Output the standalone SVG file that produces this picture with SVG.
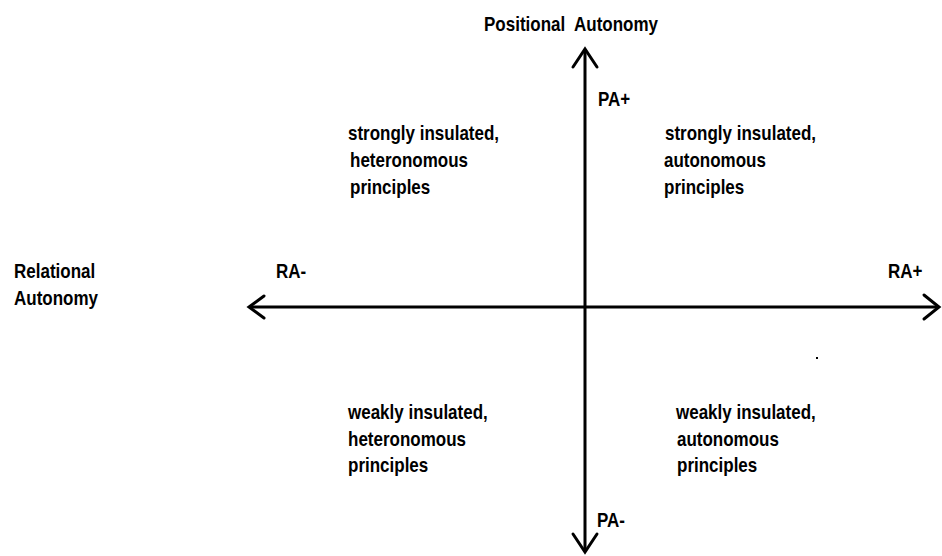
<svg xmlns="http://www.w3.org/2000/svg" width="942" height="556" viewBox="0 0 942 556">
  <style>
    .lbl { font-family: "Liberation Sans", Arial, sans-serif; font-weight: bold; font-size: 17px; fill: #000; }
    .axis { stroke: #000; stroke-width: 3; fill: none; }
    .head { stroke: #000; stroke-width: 3; fill: none; stroke-linecap: round; stroke-linejoin: miter; }
  </style>
  <rect width="942" height="556" fill="#fff"/>

  <g id="connectors">
    <!-- vertical axis: positional autonomy -->
    <line class="axis" x1="585" y1="49" x2="585" y2="552"/>
    <polyline class="head" points="573,67 585,49 597,67"/>
    <polyline class="head" points="573,534 585,552 597,534"/>
    <!-- horizontal axis: relational autonomy -->
    <line class="axis" x1="249" y1="307" x2="938" y2="307"/>
    <polyline class="head" points="264,296 249,307 264,318"/>
    <polyline class="head" points="924,295 939,307 924,319"/>
  </g>

  <!-- labels use a slightly tall face: scale(1 1.2) about each baseline -->
  <g id="axis-title-pa">
    <text class="lbl" transform="translate(484 31) scale(1 1.2)" xml:space="preserve">Positional  Autonomy</text>
  </g>
  <g id="axis-title-ra">
    <text class="lbl" transform="translate(14 278) scale(1 1.2)">Relational</text>
    <text class="lbl" transform="translate(14 305) scale(1 1.2)">Autonomy</text>
  </g>

  <g id="pa-plus"><text class="lbl" transform="translate(598 106) scale(1 1.2)">PA+</text></g>
  <g id="pa-minus"><text class="lbl" transform="translate(597 527) scale(1 1.2)">PA-</text></g>
  <g id="ra-minus"><text class="lbl" transform="translate(276 278) scale(1 1.2)">RA-</text></g>
  <g id="ra-plus"><text class="lbl" transform="translate(888 278) scale(1 1.2)">RA+</text></g>

  <g id="q-top-left">
    <text class="lbl" transform="translate(348 140) scale(1 1.2)">strongly insulated,</text>
    <text class="lbl" transform="translate(350 167) scale(1 1.2)">heteronomous</text>
    <text class="lbl" transform="translate(350 194) scale(1 1.2)">principles</text>
  </g>
  <g id="q-top-right">
    <text class="lbl" transform="translate(665 140) scale(1 1.2)">strongly insulated,</text>
    <text class="lbl" transform="translate(664 167) scale(1 1.2)">autonomous</text>
    <text class="lbl" transform="translate(664 194) scale(1 1.2)">principles</text>
  </g>
  <g id="q-bottom-left">
    <text class="lbl" transform="translate(348 419) scale(1 1.2)">weakly insulated,</text>
    <text class="lbl" transform="translate(348 446) scale(1 1.2)">heteronomous</text>
    <text class="lbl" transform="translate(348 472) scale(1 1.2)">principles</text>
  </g>
  <g id="q-bottom-right">
    <text class="lbl" transform="translate(676 419) scale(1 1.2)">weakly insulated,</text>
    <text class="lbl" transform="translate(677 446) scale(1 1.2)">autonomous</text>
    <text class="lbl" transform="translate(677 472) scale(1 1.2)">principles</text>
  </g>

  <!-- stray full stop -->
  <rect x="816" y="357" width="2" height="2" fill="#000"/>
</svg>
